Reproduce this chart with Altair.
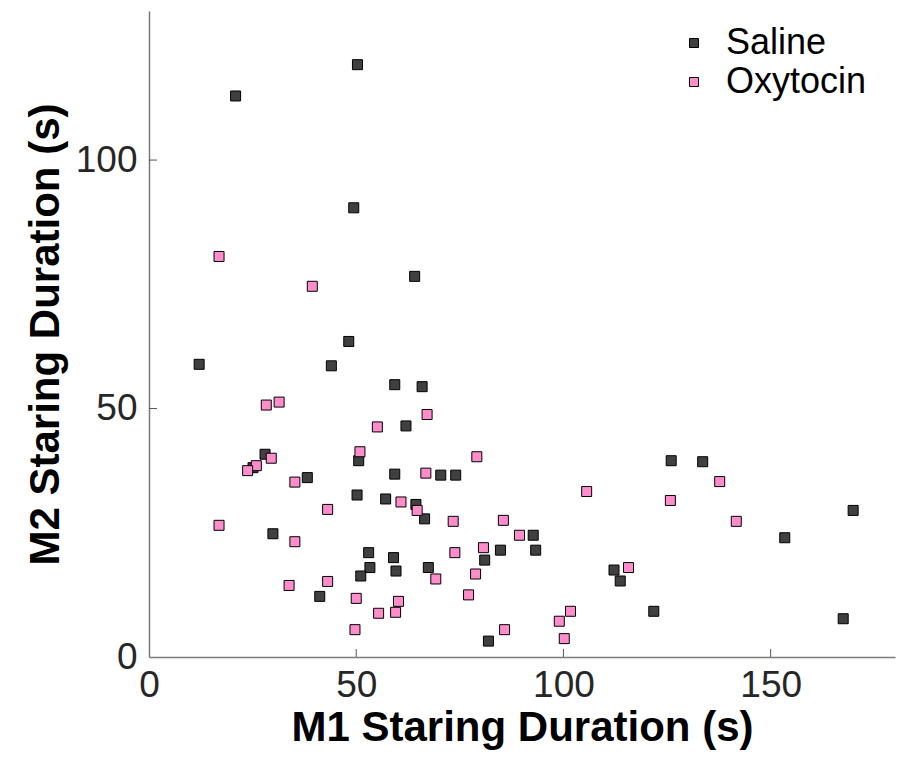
import altair as alt
import pandas as pd

# Staring durations (s) per session pair: M1 on x, M2 on y
saline_x = [50.3, 20.9, 49.4, 64.1, 48.2, 12.1, 44.0, 59.3, 65.9, 62.0,
            28.0, 25.1, 50.6, 38.2, 59.3, 70.4, 74.0, 50.2, 57.1, 64.4,
            66.5, 29.9, 53.0, 59.0, 53.3, 59.6, 67.4, 51.1, 41.2, 81.0,
            84.8, 92.7, 93.3, 81.9, 112.2, 113.7, 121.8, 126.0, 133.6, 169.9,
            153.4, 167.5]
saline_y = [119.2, 112.9, 90.4, 76.6, 63.5, 58.9, 58.6, 54.8, 54.4, 46.5,
            40.8, 38.1, 39.5, 36.1, 36.8, 36.6, 36.6, 32.6, 31.8, 30.7,
            27.8, 24.8, 21.0, 20.0, 18.0, 17.3, 18.0, 16.3, 12.2, 19.5,
            21.5, 24.5, 21.5, 3.2, 17.5, 15.3, 9.2, 39.5, 39.3, 29.5,
            24.0, 7.7]

oxy_x = [16.9, 39.4, 28.3, 31.4, 67.1, 55.1, 50.9, 29.5, 25.9, 23.8,
         35.2, 66.8, 79.1, 60.8, 64.7, 43.1, 73.4, 85.5, 89.4, 16.9,
         35.2, 73.8, 80.7, 69.2, 78.8, 77.1, 33.8, 43.1, 50.0, 60.2,
         59.5, 55.4, 49.7, 85.8, 99.0, 101.7, 100.2, 105.6, 115.7, 125.8,
         137.7, 141.7]
oxy_y = [80.6, 74.6, 50.7, 51.3, 48.8, 46.3, 41.3, 40.0, 38.5, 37.5,
         35.2, 37.0, 40.3, 31.2, 29.5, 29.7, 27.3, 27.5, 24.5, 26.5,
         23.2, 21.0, 22.0, 15.7, 16.7, 12.5, 14.4, 15.2, 11.8, 11.2,
         9.0, 8.8, 5.5, 5.5, 7.2, 9.2, 3.7, 33.3, 18.0, 31.5,
         35.3, 27.3]

groups = ["Saline", "Oxytocin"]
group_colors = ["#404040", "#ff8ccb"]

x_ticks = [0, 50, 100, 150]
y_ticks = [0, 50, 100]
x_inner_ticks = [50, 100, 150]
y_inner_ticks = [50, 100]

FONT = "Liberation Sans"
W, H = 746, 646

points = pd.DataFrame(
    {"m1": saline_x, "m2": saline_y, "group": "Saline"}
)
points = pd.concat(
    [points, pd.DataFrame({"m1": oxy_x, "m2": oxy_y, "group": "Oxytocin"})],
    ignore_index=True,
)

x_scale = alt.Scale(domain=[0, 180], nice=False, zero=False)
y_scale = alt.Scale(domain=[0, 130], nice=False, zero=False)

scatter = alt.Chart(points).mark_square(
    filled=True, size=100, stroke="black", strokeWidth=1, opacity=1
).encode(
    x=alt.X(
        "m1:Q",
        scale=x_scale,
        axis=alt.Axis(
            values=x_ticks,
            title="M1 Staring Duration (s)",
            titleFont=FONT,
            titleFontSize=42,
            titleFontWeight="bold",
            titleColor="black",
            titlePadding=4,
            labelFont=FONT,
            labelFontSize=37,
            labelColor="#262626",
            labelPadding=10,
            labelFlush=False,
            tickSize=0,
            grid=False,
            domainColor="#7a7a7a",
            domainWidth=1.5,
        ),
    ),
    y=alt.Y(
        "m2:Q",
        scale=y_scale,
        axis=alt.Axis(
            values=y_ticks,
            title="M2 Staring Duration (s)",
            titleFont=FONT,
            titleFontSize=42,
            titleFontWeight="bold",
            titleColor="black",
            titlePadding=8,
            labelFont=FONT,
            labelFontSize=37,
            labelColor="#262626",
            labelPadding=12,
            labelFlush=False,
            tickSize=0,
            grid=False,
            domainColor="#7a7a7a",
            domainWidth=1.5,
        ),
    ),
    color=alt.Color(
        "group:N",
        scale=alt.Scale(domain=groups, range=group_colors),
        sort=groups,
        legend=alt.Legend(
            title=None,
            orient="none",
            legendX=527,
            legendY=14,
            symbolType="square",
            symbolSize=81,
            symbolStrokeColor="black",
            symbolStrokeWidth=1,
            symbolOpacity=1,
            labelFont=FONT,
            labelFontSize=36,
            labelColor="black",
            labelOffset=14,
            rowPadding=3,
            padding=0,
        ),
    ),
)

# MATLAB-style inward tick marks
x_tick_marks = alt.Chart(pd.DataFrame({"t": x_inner_ticks})).mark_rule(
    color="#555555", strokeWidth=1
).encode(
    x=alt.X("t:Q", scale=x_scale),
    y=alt.value(H),
    y2=alt.value(H - 8),
)
y_tick_marks = alt.Chart(pd.DataFrame({"t": y_inner_ticks})).mark_rule(
    color="#555555", strokeWidth=1
).encode(
    y=alt.Y("t:Q", scale=y_scale),
    x=alt.value(0),
    x2=alt.value(8),
)

chart = alt.layer(x_tick_marks, y_tick_marks, scatter).properties(
    width=W,
    height=H,
    autosize=alt.AutoSizeParams(type="none"),
    padding={"left": 149, "top": 11, "right": 13, "bottom": 104},
    background="white",
).configure_view(stroke=None)

chart.save("out.html", embed_options={"renderer": "svg", "actions": False})
